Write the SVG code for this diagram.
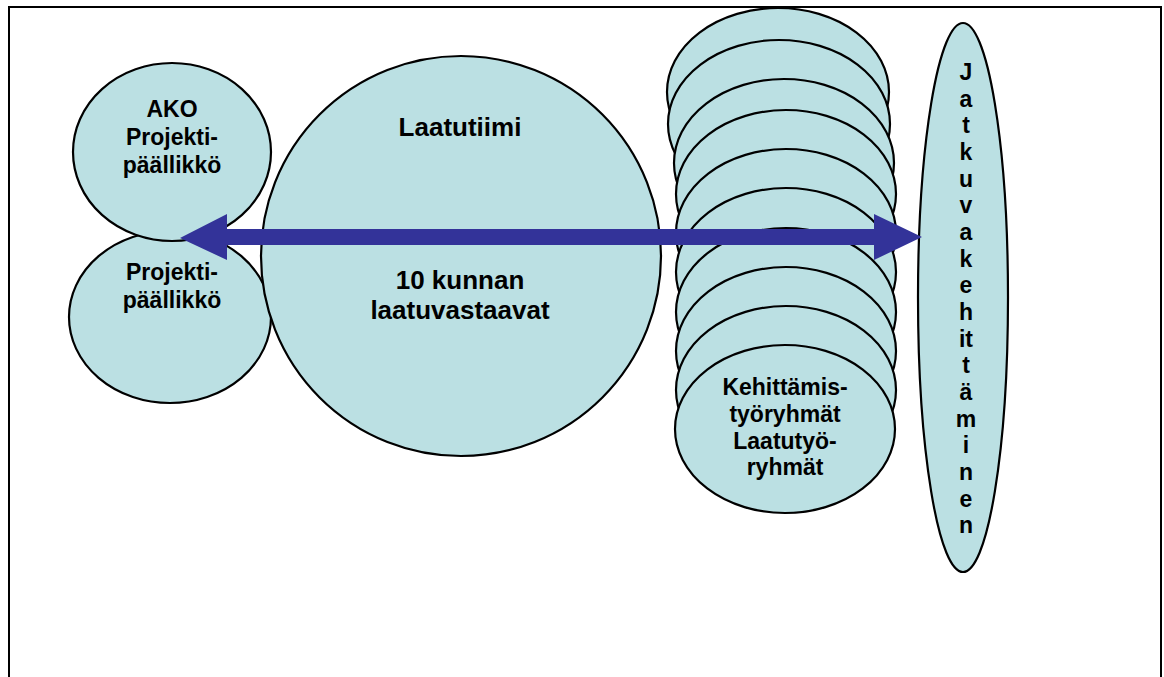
<svg xmlns="http://www.w3.org/2000/svg" width="1164" height="677" viewBox="0 0 1164 677">
  <style>
    .shape { fill: #BBE0E3; stroke: #000; stroke-width: 2.2; }
    .lbl { font-family: "Liberation Sans", Arial, sans-serif; font-weight: bold; fill: #000; text-anchor: middle; font-size: 23px; }
    .big { font-size: 26px; }
    .arrow { fill: #333399; }
  </style>
  <rect x="0" y="0" width="1164" height="677" fill="#fff"/>
  <!-- page frame, open at the bottom -->
  <path d="M9,677 V7 H1161 V677" fill="none" stroke="#000" stroke-width="2"/>

  <g id="projektipaallikko">
    <ellipse class="shape" cx="170" cy="317" rx="101" ry="86"/>
    <text class="lbl" x="172" y="280">Projekti-</text>
    <text class="lbl" x="172" y="308">päällikkö</text>
  </g>

  <g id="ako-projektipaallikko">
    <ellipse class="shape" cx="172" cy="152" rx="99" ry="89"/>
    <text class="lbl" x="172" y="117">AKO</text>
    <text class="lbl" x="172" y="145">Projekti-</text>
    <text class="lbl" x="172" y="173">päällikkö</text>
  </g>

  <g id="laatutiimi">
    <ellipse class="shape" cx="461" cy="256" rx="200" ry="200"/>
    <text class="lbl big" x="460" y="136">Laatutiimi</text>
    <text class="lbl big" x="460" y="289">10 kunnan</text>
    <text class="lbl big" x="460" y="319">laatuvastaavat</text>
  </g>

  <g id="tyoryhmat">
    <ellipse class="shape" cx="778" cy="92" rx="111" ry="84"/>
    <ellipse class="shape" cx="779" cy="124" rx="111" ry="84"/>
    <ellipse class="shape" cx="784" cy="163" rx="110" ry="84"/>
    <ellipse class="shape" cx="786" cy="194" rx="110" ry="84"/>
    <ellipse class="shape" cx="786" cy="233" rx="110" ry="84"/>
    <ellipse class="shape" cx="786" cy="272" rx="110" ry="84"/>
    <ellipse class="shape" cx="786" cy="312" rx="110" ry="84"/>
    <ellipse class="shape" cx="786" cy="351" rx="110" ry="84"/>
    <ellipse class="shape" cx="786" cy="390" rx="110" ry="84"/>
    <ellipse class="shape" cx="785" cy="429" rx="110" ry="84"/>
    <text class="lbl" x="785" y="395">Kehittämis-</text>
    <text class="lbl" x="785" y="422">työryhmät</text>
    <text class="lbl" x="785" y="449">Laatutyö-</text>
    <text class="lbl" x="785" y="475">ryhmät</text>
  </g>

  <g id="jatkuva-kehittaminen">
    <ellipse class="shape" cx="963" cy="297.5" rx="45" ry="274.5"/>
    <text class="lbl" x="966" y="80">J</text>
    <text class="lbl" x="966" y="106.7">a</text>
    <text class="lbl" x="966" y="133.3">t</text>
    <text class="lbl" x="966" y="160">k</text>
    <text class="lbl" x="966" y="186.6">u</text>
    <text class="lbl" x="966" y="213.3">v</text>
    <text class="lbl" x="966" y="240">a</text>
    <text class="lbl" x="966" y="266.6">k</text>
    <text class="lbl" x="966" y="293.3">e</text>
    <text class="lbl" x="966" y="320">h</text>
    <text class="lbl" x="966" y="346.6">it</text>
    <text class="lbl" x="966" y="373.3">t</text>
    <text class="lbl" x="966" y="400">ä</text>
    <text class="lbl" x="966" y="426.6">m</text>
    <text class="lbl" x="966" y="453.3">i</text>
    <text class="lbl" x="966" y="480">n</text>
    <text class="lbl" x="966" y="506.6">e</text>
    <text class="lbl" x="966" y="533.3">n</text>
  </g>

  <g id="connectors">
    <!-- double-headed block arrow -->
    <polygon class="arrow" points="180,238 227,214 227,229 874,229 874,214 922,237 874,260 874,245 227,245 227,260"/>
  </g>
</svg>
